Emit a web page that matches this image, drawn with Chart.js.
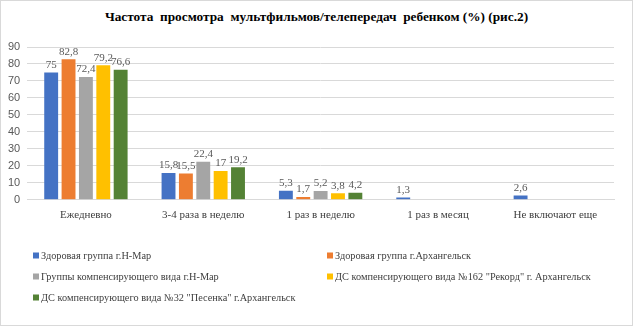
<!DOCTYPE html>
<html lang="ru">
<head>
<meta charset="utf-8">
<script src="https://cdn.jsdelivr.net/npm/chart.js@4"></script>
<style>
  html, body { margin: 0; padding: 0; background: #fff; }
  #frame {
    position: relative; width: 633px; height: 326px;
    box-sizing: border-box; border: 1px solid #d9d9d9; background: #fff;
  }
  #title {
    position: absolute; left: 0; top: 8px; width: 631px; text-align: center;
    font: bold 13.3px "Liberation Serif", "Times New Roman", serif; color: #000;
    white-space: pre;
  }
  #chartBox { position: absolute; left: 0; top: 0; width: 631px; height: 238px; }
  #legend { position: absolute; left: 0; top: 0; width: 631px; height: 324px; pointer-events: none; }
  .lg-item {
    position: absolute; display: flex; align-items: center; white-space: nowrap;
    font: 10.3px "Liberation Serif", "Times New Roman", serif; color: #404040;
    transform: translateY(-50%);
  }
  .lg-box { width: 6px; height: 6px; margin-right: 2px; }
</style>
</head>
<body>
<div id="frame">
  <div id="title"></div>
  <div id="chartBox"><canvas id="freqChart"></canvas></div>
  <div id="legend"></div>
</div>
<script>
// ── Data ────────────────────────────────────────────────────────────────
const TITLE = 'Частота  просмотра  мультфильмов/телепередач  ребенком (%) (рис.2)';

const CATEGORIES = ['Ежедневно', '3-4 раза в неделю', '1 раз в неделю', '1 раз в месяц', 'Не включают еще'];

const SERIES_NAMES = [
  'Здоровая группа г.Н-Мар',
  'Здоровая группа г.Архангельск',
  'Группы компенсирующего вида г.Н-Мар',
  'ДС компенсирующего вида №162 "Рекорд" г. Архангельск',
  'ДС компенсирующего вида №32 "Песенка" г.Архангельск',
];

const HEALTHY_NMAR   = [75, 15.8, 5.3, 1.3, 2.6];
const HEALTHY_ARKH   = [82.8, 15.5, 1.7, null, null];
const COMP_NMAR      = [72.4, 22.4, 5.2, null, null];
const DS162_REKORD   = [79.2, 17, 3.8, null, null];
const DS32_PESENKA   = [76.6, 19.2, 4.2, null, null];

const Y_TICKS = [0, 10, 20, 30, 40, 50, 60, 70, 80, 90];

const COLORS = ['#4472C4', '#ED7D31', '#A5A5A5', '#FFC000', '#548235'];
const SERIES = [HEALTHY_NMAR, HEALTHY_ARKH, COMP_NMAR, DS162_REKORD, DS32_PESENKA];

const SERIF = '"Liberation Serif", "Times New Roman", serif';

document.getElementById('title').textContent = TITLE;

// value labels above the bars, decimal comma as in the original
const valueLabels = {
  id: 'valueLabels',
  afterDatasetsDraw(chart) {
    const ctx = chart.ctx;
    ctx.save();
    ctx.font = '11px ' + SERIF;
    ctx.fillStyle = '#595959';
    ctx.textAlign = 'center';
    ctx.textBaseline = 'bottom';
    chart.data.datasets.forEach((ds, i) => {
      chart.getDatasetMeta(i).data.forEach((bar, j) => {
        const v = ds.data[j];
        if (v == null) return;
        ctx.fillText(String(v).replace('.', ','), bar.x, bar.y - 2);
      });
    });
    ctx.restore();
  }
};

new Chart(document.getElementById('freqChart'), {
  type: 'bar',
  data: {
    labels: CATEGORIES,
    datasets: SERIES.map((d, i) => ({
      label: SERIES_NAMES[i],
      data: d,
      backgroundColor: COLORS[i],
      categoryPercentage: 0.74,
      barPercentage: 0.8,
    }))
  },
  options: {
    animation: false, responsive: true, maintainAspectRatio: false,
    // top padding leaves room for the HTML title, centred on the whole frame
    layout: { padding: { top: 46, left: 0, right: 18, bottom: 16 } },
    scales: {
      x: {
        grid: { display: false },
        border: { color: '#d9d9d9' },
        ticks: { color: '#404040', font: { family: SERIF, size: 11 }, padding: 1, maxRotation: 0 },
      },
      y: {
        min: 0, max: 90,
        afterBuildTicks: s => { s.ticks = Y_TICKS.map(v => ({ value: v })); },
        grid: { color: '#d9d9d9', drawTicks: false },
        border: { display: false },
        ticks: { color: '#595959', font: { family: '"Liberation Sans", Arial, sans-serif', size: 11 }, padding: 7, autoSkip: false },
      },
    },
    plugins: {
      legend: { display: false },
      tooltip: { enabled: false },
      title: { display: false },
    }
  },
  plugins: [valueLabels]
});

// ── Legend (two columns, like the Excel original) ───────────────────────
const LEGEND_POS = [[32, 254], [326, 254], [32, 275], [326, 275], [32, 296]];
const legendEl = document.getElementById('legend');
SERIES_NAMES.forEach((name, i) => {
  const item = document.createElement('div');
  item.className = 'lg-item';
  item.style.left = LEGEND_POS[i][0] + 'px';
  item.style.top = LEGEND_POS[i][1] + 'px';
  item.innerHTML = `<span class="lg-box" style="background:${COLORS[i]}"></span>`;
  item.appendChild(document.createTextNode(name));
  legendEl.appendChild(item);
});
</script>
</body>
</html>
